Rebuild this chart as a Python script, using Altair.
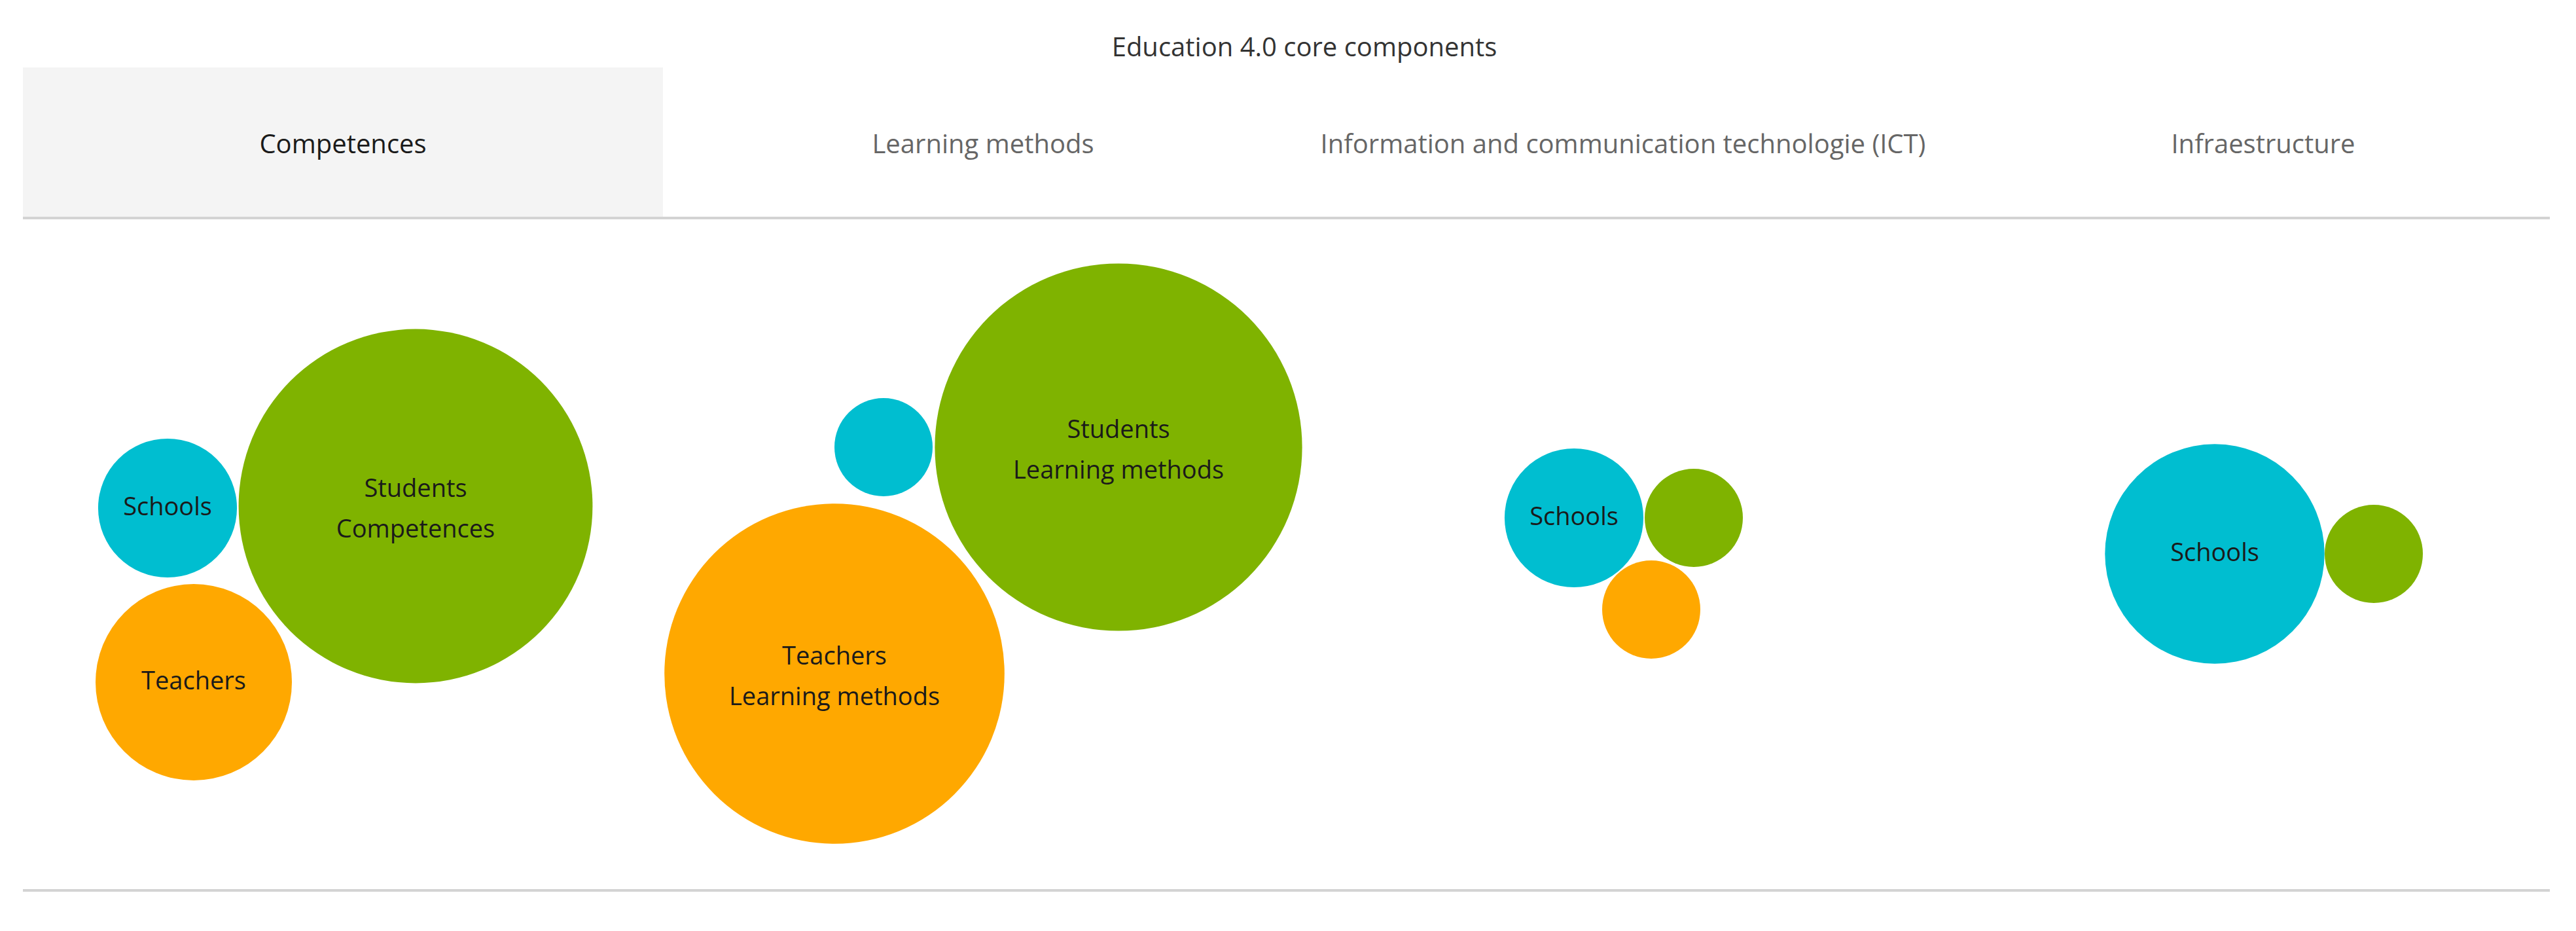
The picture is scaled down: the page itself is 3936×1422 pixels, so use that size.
import altair as alt
import pandas as pd

# ---- data ----
title_text = "Education 4.0 core components"
tab_labels = ["Competences", "Learning methods",
              "Information and communication technologie (ICT)", "Infraestructure"]
tab_active = [True, False, False, False]

# bubbles: component group, actor, count, label and layout position
bub_group = ["Competences", "Competences", "Competences",
             "Learning methods", "Learning methods", "Learning methods",
             "ICT", "ICT", "ICT",
             "Infraestructure", "Infraestructure"]
bub_actor = ["Schools", "Teachers", "Students",
             "Schools", "Teachers", "Students",
             "Schools", "Students", "Teachers",
             "Schools", "Students"]
bub_value = [2, 4, 13, 1, 12, 14, 2, 1, 1, 5, 1]
bub_label = ["Schools", "Teachers", "Students\nCompetences",
             "", "Teachers\nLearning methods", "Students\nLearning methods",
             "Schools", "", "",
             "Schools", ""]
bub_x = [256, 296, 635, 1350, 1275, 1709, 2405, 2588, 2523, 3384, 3627]
bub_y = [776, 1042, 773, 683, 1029, 683, 791, 791, 931, 846, 846]

actors = ["Schools", "Teachers", "Students"]
actor_colors = ["#00bed0", "#ffa800", "#7fb300"]

W, H = 3920, 1406
unit_r = 75.0
# Vega circle: radius = sqrt(size)/2
unit_size = (2 * unit_r) ** 2
max_val = 14
LH = 62

XS = alt.Scale(domain=[8, 8 + W])
YS = alt.Scale(domain=[8 + H, 8])

bubbles = pd.DataFrame({"group": bub_group, "actor": bub_actor, "value": bub_value,
                        "label": bub_label, "x": bub_x, "y": bub_y})
bubbles["nlines"] = [len(s.split("\n")) for s in bub_label]

tab_w = 978
tab_x0 = 35
tabs = pd.DataFrame({
    "label": tab_labels,
    "active": tab_active,
    "x": [tab_x0 + i * tab_w for i in range(4)],
    "x2": [tab_x0 + (i + 1) * tab_w for i in range(4)],
    "xc": [tab_x0 + (i + 0.5) * tab_w for i in range(4)],
    "y": [103] * 4, "y2": [331] * 4, "yc": [222] * 4,
})

rules = pd.DataFrame({"x": [35, 35], "x2": [3896, 3896], "y": [333, 1360]})
title_df = pd.DataFrame({"t": [title_text], "x": [1993], "y": [74]})

FONT = "Open Sans"

tab_bg = alt.Chart(tabs).transform_filter("datum.active").mark_rect(
    color="#f4f4f4").encode(
    x=alt.X("x:Q", scale=XS, axis=None), x2="x2:Q",
    y=alt.Y("y:Q", scale=YS, axis=None), y2="y2:Q")

tab_text = alt.Chart(tabs).mark_text(font=FONT, fontSize=40, baseline="middle").encode(
    x=alt.X("xc:Q", scale=XS, axis=None),
    y=alt.Y("yc:Q", scale=YS, axis=None),
    text="label:N",
    color=alt.condition("datum.active", alt.value("#1a1a1a"), alt.value("#666666")))

rule_layer = alt.Chart(rules).mark_rule(color="#d3d3d3", strokeWidth=4).encode(
    x=alt.X("x:Q", scale=XS, axis=None), x2="x2:Q",
    y=alt.Y("y:Q", scale=YS, axis=None))

title_layer = alt.Chart(title_df).mark_text(font=FONT, fontSize=40, color="#333333",
                                            baseline="middle").encode(
    x=alt.X("x:Q", scale=XS, axis=None),
    y=alt.Y("y:Q", scale=YS, axis=None),
    text="t:N")

circles = alt.Chart(bubbles).mark_circle(opacity=1).encode(
    x=alt.X("x:Q", scale=XS, axis=None),
    y=alt.Y("y:Q", scale=YS, axis=None),
    size=alt.Size("value:Q", scale=alt.Scale(domain=[0, max_val], range=[0, max_val * unit_size]),
                  legend=None),
    color=alt.Color("actor:N", scale=alt.Scale(domain=actors, range=actor_colors), legend=None))

labels = alt.Chart(bubbles).transform_calculate(
    ly=f"datum.y - (datum.nlines - 1) * {LH / 2} + (datum.nlines > 1 ? 6 : 0)"
).mark_text(font=FONT, fontSize=38, color="#1a1a1a",
            lineBreak="\n", lineHeight=LH, baseline="middle").encode(
    x=alt.X("x:Q", scale=XS, axis=None),
    y=alt.Y("ly:Q", scale=YS, axis=None),
    text="label:N")

chart = alt.layer(tab_bg, rule_layer, tab_text, title_layer, circles, labels).properties(
    width=W, height=H, padding=0, autosize=alt.AutoSizeParams(type="none")
).configure_view(stroke=None)

chart.save("out.html", embed_options={"renderer": "svg", "actions": False})
